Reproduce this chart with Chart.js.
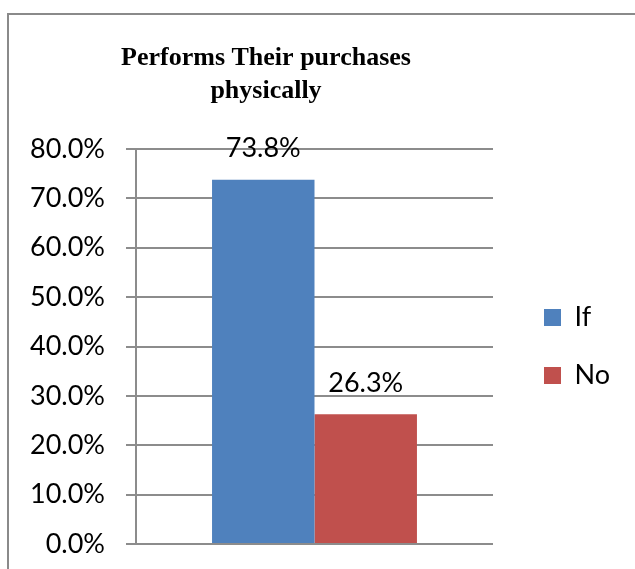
<!DOCTYPE html>
<html>
<head>
<meta charset="utf-8">
<script src="https://cdn.jsdelivr.net/npm/chart.js@4.4.0/dist/chart.umd.min.js"></script>
<style>
    html, body { margin: 0; padding: 0; background: #fff; overflow: hidden; }
    #frame {
        position: absolute; left: 7px; top: 13px;
        width: 700px; height: 700px;
        border: 2px solid #8a8a8a;
    }
    #wrap { position: absolute; left: 0; top: 0; width: 635px; height: 569px; }
</style>
</head>
<body>
<div id="frame"></div>
<div id="wrap"><canvas id="purchaseChart"></canvas></div>
<script>
const titleLines = ['Performs Their purchases', 'physically'];
const categories = [''];
const seriesNames = ['If', 'No'];
const ifValues = [73.8];
const noValues = [26.3];
const yTicks = { min: 0, max: 80, step: 10 };

const labelFont = { family: 'Lato', size: 27 };

// data labels above each bar, like Excel's "show value"
const valueLabels = {
    id: 'valueLabels',
    afterDatasetsDraw(chart) {
        const ctx = chart.ctx;
        ctx.save();
        ctx.font = labelFont.size + 'px ' + labelFont.family;
        ctx.fillStyle = '#000';
        ctx.textAlign = 'center';
        ctx.textBaseline = 'middle';
        chart.data.datasets.forEach((ds, i) => {
            chart.getDatasetMeta(i).data.forEach((bar, j) => {
                ctx.fillText(ds.data[j].toFixed(1) + '%', bar.x, bar.y - 31);
            });
        });
        ctx.restore();
    }
};

// nudge title and legend to where Excel put them
const excelLayout = {
    id: 'excelLayout',
    afterLayout(chart) {
        chart.legend.left += 20;
        chart.legend.right += 20;
        chart.titleBlock.right = 532;
    }
};

const ctx = document.getElementById('purchaseChart').getContext('2d');
new Chart(ctx, {
    type: 'bar',
    data: {
        labels: categories,
        datasets: [{
            label: seriesNames[0],
            data: ifValues,
            backgroundColor: '#4F81BD'
        }, {
            label: seriesNames[1],
            data: noValues,
            backgroundColor: '#C0504D'
        }]
    },
    options: {
        responsive: true,
        maintainAspectRatio: false,
        animation: false,
        categoryPercentage: 0.574,
        barPercentage: 1,
        layout: { padding: { top: 0, left: 0, right: 35, bottom: 25 } },
        scales: {
            x: { display: false },
            y: {
                min: yTicks.min,
                max: yTicks.max,
                afterFit(scale) {
                    scale.width = 136;
                    scale.paddingTop = 0;
                    scale.paddingBottom = 0;
                },
                ticks: {
                    stepSize: yTicks.step,
                    padding: 21,
                    color: '#000',
                    font: labelFont,
                    callback: v => v.toFixed(1) + '%'
                },
                grid: { color: '#8c8c8c', lineWidth: 2, tickLength: 10, tickColor: '#8c8c8c' },
                border: { color: '#8c8c8c', width: 2 }
            }
        },
        plugins: {
            title: {
                display: true,
                text: titleLines,
                color: '#000',
                font: { family: 'Liberation Serif', size: 26, weight: 'bold', lineHeight: 1.27 },
                padding: { top: 41.5, bottom: 41.5 }
            },
            legend: {
                position: 'right',
                fullSize: false,
                labels: {
                    boxWidth: 17,
                    boxHeight: 17,
                    padding: 31,
                    color: '#000',
                    font: labelFont
                }
            },
            tooltip: { enabled: false }
        }
    },
    plugins: [valueLabels, excelLayout]
});
</script>
</body>
</html>
